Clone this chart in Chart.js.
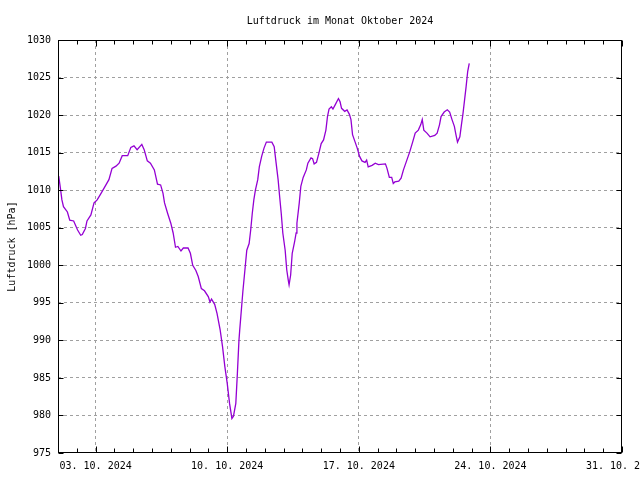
<!DOCTYPE html>
<html><head><meta charset="utf-8">
<script src="https://cdn.jsdelivr.net/npm/chart.js@4.4.0/dist/chart.umd.min.js"></script>
<style>html,body{margin:0;padding:0;background:#fff;}canvas{display:block;}</style>
</head><body>
<canvas id="c" width="640" height="480"></canvas>
<script>
// Hours since 01.10.2024 00:00
const hours = [0,1,3,5,7,12,15,20,25,29,31,35,37,42,46,50,54,59,65,69,74,78,82,89,93,97,101,107,110,114,118,123,127,131,134,136,140,144,147,150,153,157,160,166,169,172,176,179,183,187,192,194,196,200,203,207,210,213,216,219,222,224,227,229,231,232,236,239,241,244,246,248,250,252,255,257,260,263,266,273,276,278,281,283,285,287,290,292,294,295,297,299,302,304,305,308,310,313,317,319,323,325,327,330,333,336,339,342,344,346,349,351,354,358,360,362,366,369,372,374,376,379,382,385,388,392,394,396,401,405,409,418,420,423,426,428,430,435,438,441,445,449,453,456,460,463,465,467,471,475,481,484,487,489,493,497,500,503,506,508,510,513,515,517,519,521,523,525];
// Luftdruck in hPa
const pressure = [1011.9,1011.8,1010.3,1008.7,1007.8,1007.1,1006.0,1005.9,1004.7,1004.0,1004.1,1004.9,1005.9,1006.7,1008.3,1008.7,1009.4,1010.3,1011.4,1012.9,1013.2,1013.6,1014.6,1014.6,1015.7,1015.9,1015.4,1016.1,1015.4,1013.9,1013.6,1012.7,1010.8,1010.7,1009.6,1008.3,1006.9,1005.6,1004.3,1002.4,1002.5,1001.9,1002.3,1002.3,1001.6,1000.0,999.3,998.5,996.9,996.6,995.8,995.1,995.5,994.8,993.6,991.4,989.2,986.5,984.3,981.6,979.6,979.9,981.6,985.6,990.0,991.4,996.5,999.8,1002.0,1002.9,1004.7,1006.9,1008.7,1010.0,1011.4,1013.1,1014.5,1015.6,1016.4,1016.4,1015.8,1014.0,1011.4,1009.1,1006.9,1004.3,1002.0,999.4,998.0,997.4,998.7,1001.6,1003.1,1004.3,1005.6,1008.3,1010.5,1011.7,1012.7,1013.6,1014.3,1014.2,1013.5,1013.7,1014.9,1016.2,1016.7,1018.0,1019.8,1020.8,1021.1,1020.8,1021.4,1022.2,1021.8,1020.9,1020.5,1020.7,1020.1,1019.4,1017.4,1016.5,1015.6,1014.5,1013.9,1013.7,1014.0,1013.1,1013.3,1013.6,1013.4,1013.5,1012.9,1011.7,1011.7,1010.9,1011.1,1011.2,1011.6,1012.7,1013.9,1015.1,1016.5,1017.6,1018.0,1018.7,1019.4,1018.0,1017.6,1017.1,1017.3,1017.6,1018.7,1019.8,1020.4,1020.7,1020.4,1019.4,1018.5,1017.4,1016.4,1017.1,1018.7,1020.2,1022.0,1023.8,1025.8,1026.9];
const xTickHours = [48,216,384,552,720];
const xTickLabels = ['03. 10. 2024','10. 10. 2024','17. 10. 2024','24. 10. 2024','31. 10. 2024'];
const xMin = 0, xMax = 720, xMinorStep = 24;
const yMin = 975, yMax = 1030, yStep = 5;
const titleText = 'Luftdruck im Monat Oktober 2024';
const yTitle = 'Luftdruck [hPa]';

const FONT = {family:'"DejaVu Sans Mono", "Liberation Mono", monospace', size:10};
const GRID = '#a0a0a0';

const frameTicks = {
  id:'frameTicks',
  afterDraw(chart){
    const {ctx, chartArea:a, scales:{x, y}} = chart;
    const L = Math.round(a.left)+0.5, R = Math.round(a.right)-0.5, T = Math.round(a.top)+0.5, B = Math.round(a.bottom)-0.5;
    ctx.save();
    ctx.setLineDash([]);
    ctx.strokeStyle = '#000';
    ctx.lineWidth = 1;
    const line = (x1,y1,x2,y2)=>{ctx.beginPath();ctx.moveTo(x1,y1);ctx.lineTo(x2,y2);ctx.stroke();};
    ctx.strokeRect(L, T, R-L, B-T);
    for (let h = xMin; h <= xMax; h += xMinorStep){
      const px = Math.round(x.getPixelForValue(h))+0.5;
      const len = xTickHours.includes(h) ? 6 : 4;
      line(px, B, px, B-len);
      line(px, T, px, T+len);
    }
    for (let v = yMin; v <= yMax; v += yStep){
      const py = Math.round(y.getPixelForValue(v))+0.5;
      line(L, py, L+5, py);
      line(R, py, R-5, py);
    }
    ctx.restore();
  }
};

new Chart(document.getElementById('c'), {
  type:'line',
  data:{datasets:[{
    data: hours.map((h,i)=>({x:h, y:pressure[i]})),
    borderColor:'#9400d3', borderWidth:1.3, pointRadius:0, tension:0, fill:false
  }]},
  options:{
    responsive:false, animation:false, devicePixelRatio:1,
    layout:{padding:{left:0, right:18, top:0, bottom:0}},
    plugins:{
      legend:{display:false}, tooltip:{enabled:false},
      title:{display:true, text:titleText, fullSize:false, color:'#000', font:{...FONT, weight:'normal'}, padding:{top:15, bottom:13}}
    },
    scales:{
      x:{
        type:'linear', min:xMin, max:xMax,
        afterBuildTicks: s => { s.ticks = xTickHours.map(v=>({value:v})); },
        ticks:{autoSkip:false, maxRotation:0, minRotation:0, color:'#000', font:FONT, padding:7,
          callback:(v)=>{ const i = xTickHours.indexOf(v); return i>=0 ? xTickLabels[i] : ''; }},
        grid:{drawTicks:false, lineWidth:1, color: c => (c.tick && (c.tick.value===xMin || c.tick.value===xMax)) ? 'rgba(0,0,0,0)' : GRID},
        border:{display:false, dash:[3,3]},
        afterFit: s => { s.height = 27; s.paddingLeft = 0; s.paddingRight = 0; }
      },
      y:{
        min:yMin, max:yMax,
        ticks:{stepSize:yStep, color:'#000', font:FONT, padding:7, callback:(v)=>String(v)},
        grid:{drawTicks:false, lineWidth:1, color: c => (c.tick && (c.tick.value===yMin || c.tick.value===yMax)) ? 'rgba(0,0,0,0)' : GRID},
        border:{display:false, dash:[3,3]},
        title:{display:true, text:yTitle, color:'#000', font:FONT, padding:{top:6, bottom:0}},
        afterFit: s => { s.width = 58; s.paddingTop = 0; s.paddingBottom = 0; }
      }
    }
  },
  plugins:[frameTicks]
});
</script>
</body></html>
